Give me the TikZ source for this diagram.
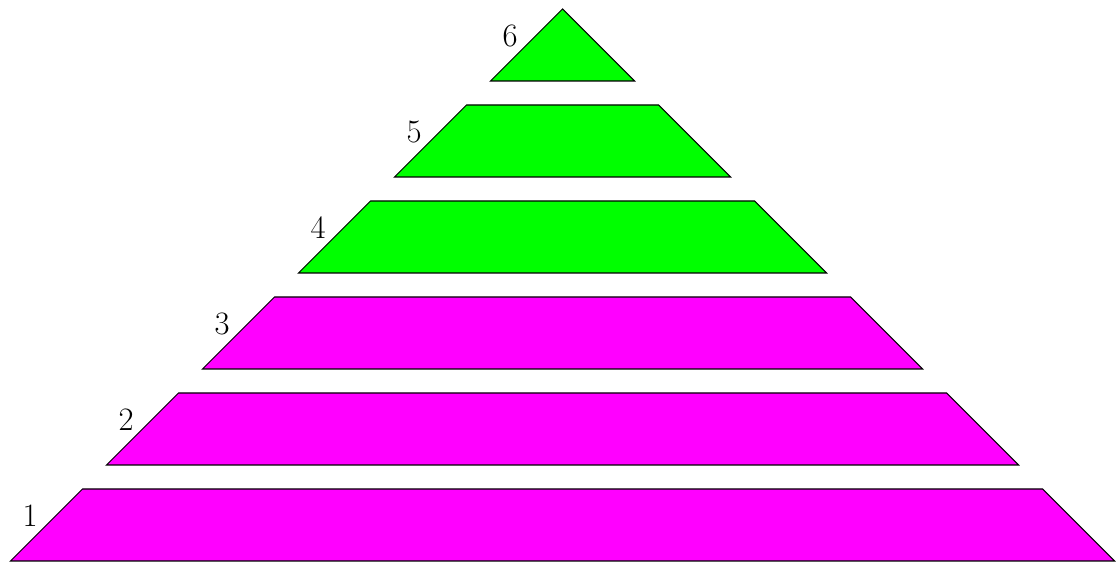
\documentclass[tikz,border=0pt]{standalone}
\usepackage{tikz}
\definecolor{mag}{RGB}{255,0,255}
\definecolor{grn}{RGB}{0,255,0}
\begin{document}
\begin{tikzpicture}[x=0.02cm,y=-0.02cm,
  layer/.style={draw=black, line width=0.6pt, line join=miter},
  lowlayer/.style={layer, fill=mag},
  highlayer/.style={layer, fill=grn},
  num/.style={font=\fontsize{18.6}{22}\selectfont, inner sep=0pt}]
\useasboundingbox (0,0) rectangle (1117,563);
% layers (bottom y, top y, bottom-left x, bottom-right x)
\filldraw[lowlayer] (10.5,561) -- (82.5,489) -- (1042.5,489) -- (1114.5,561) -- cycle;
\filldraw[lowlayer] (106.5,465) -- (178.5,393) -- (946.5,393) -- (1018.5,465) -- cycle;
\filldraw[lowlayer] (202.5,369) -- (274.5,297) -- (850.5,297) -- (922.5,369) -- cycle;
\filldraw[highlayer] (298.5,273) -- (370.5,201) -- (754.5,201) -- (826.5,273) -- cycle;
\filldraw[highlayer] (394.5,177) -- (466.5,105) -- (658.5,105) -- (730.5,177) -- cycle;
\filldraw[highlayer] (490.5,81) -- (562.5,9) -- (634.5,81) -- cycle;
% labels
\node[num] (l1) at (30,516) {1};
\node[num] (l2) at (126,420) {2};
\node[num] (l3) at (222,324) {3};
\node[num] (l4) at (318,228) {4};
\node[num] (l5) at (414,132) {5};
\node[num] (l6) at (510,36) {6};
\end{tikzpicture}
\end{document}
